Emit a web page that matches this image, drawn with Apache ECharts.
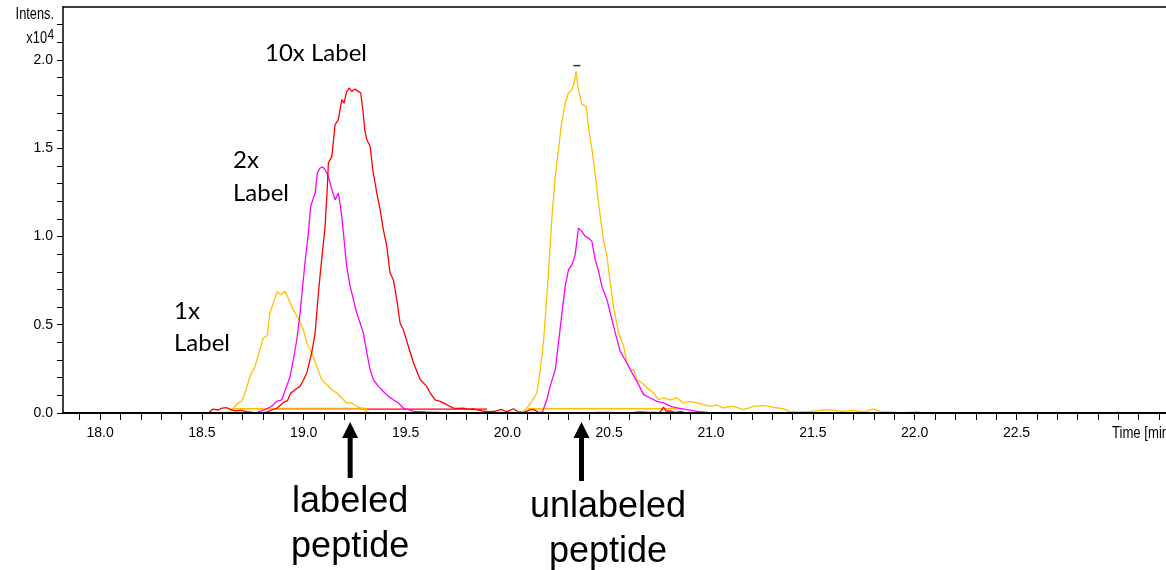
<!DOCTYPE html>
<html><head><meta charset="utf-8">
<script src="https://cdn.jsdelivr.net/npm/echarts@6/dist/echarts.min.js"></script>
<style>html,body{margin:0;padding:0;background:#fff}#c{width:1166px;height:570px}</style>
</head><body><div id="c"></div>
<script>
// ---- data (time in min, intensity in x10^4) ----
const xLabels = ['18.0','18.5','19.0','19.5','20.0','20.5','21.0','21.5','22.0','22.5'];
const yLabels = ['0.0','0.5','1.0','1.5','2.0'];
const xMin = 17.818, xMax = 23.234;
const yMin = 0, yMax = 2.3;

const red10x = [[17.818,0],[18.53,0],[18.54,0.009],[18.555,0.022],[18.58,0.017],[18.6,0.028],[18.62,0.03],[18.64,0.02],[18.66,0.012],[18.69,0.015],[18.72,0.008],[18.75,0.004],[18.78,0.002],[18.8,0],[18.82,0.006],[18.843,0.017],[18.87,0.028],[18.9,0.06],[18.92,0.07],[18.935,0.11],[18.957,0.132],[18.982,0.151],[19.0,0.19],[19.015,0.227],[19.039,0.34],[19.056,0.453],[19.072,0.68],[19.088,0.869],[19.105,1.057],[19.116,1.284],[19.121,1.416],[19.138,1.454],[19.145,1.53],[19.154,1.633],[19.17,1.662],[19.187,1.775],[19.198,1.756],[19.211,1.822],[19.224,1.841],[19.236,1.822],[19.252,1.836],[19.268,1.822],[19.28,1.813],[19.29,1.718],[19.301,1.595],[19.31,1.548],[19.326,1.511],[19.339,1.378],[19.359,1.246],[19.375,1.152],[19.391,1.039],[19.408,0.944],[19.424,0.793],[19.44,0.755],[19.457,0.642],[19.473,0.51],[19.489,0.472],[19.514,0.377],[19.539,0.283],[19.572,0.189],[19.588,0.17],[19.604,0.151],[19.621,0.113],[19.645,0.075],[19.67,0.066],[19.703,0.047],[19.735,0.028],[19.76,0.026],[19.784,0.028],[19.81,0.02],[19.833,0.024],[19.86,0.015],[19.883,0.01],[19.91,0.008],[19.94,0.01],[19.97,0.02],[19.99,0.01],[20.0,0.008],[20.03,0.024],[20.05,0.008],[20.08,0.003],[20.11,0.018],[20.13,0.02],[20.15,0.005],[20.2,0],[20.3,0.002],[20.4,0],[20.45,0.004],[20.55,0.002],[20.6,0],[20.65,0.006],[20.7,0.004],[20.75,0.005],[20.767,0.033],[20.78,0.01],[20.8,0.012],[20.82,0.004],[20.85,0.008],[20.88,0],[23.234,0]];

const magenta2x = [[17.818,0],[18.76,0],[18.769,0.009],[18.81,0.019],[18.843,0.038],[18.867,0.066],[18.892,0.075],[18.916,0.151],[18.933,0.207],[18.949,0.302],[18.966,0.415],[18.982,0.567],[18.998,0.755],[19.006,0.85],[19.023,1.02],[19.034,1.171],[19.056,1.246],[19.067,1.36],[19.08,1.388],[19.093,1.394],[19.105,1.378],[19.118,1.35],[19.129,1.303],[19.143,1.246],[19.154,1.208],[19.162,1.227],[19.17,1.246],[19.178,1.19],[19.187,1.114],[19.198,0.982],[19.211,0.831],[19.228,0.717],[19.244,0.642],[19.26,0.567],[19.277,0.51],[19.293,0.453],[19.31,0.34],[19.326,0.245],[19.342,0.189],[19.367,0.151],[19.391,0.122],[19.416,0.094],[19.44,0.075],[19.465,0.057],[19.489,0.028],[19.514,0.019],[19.539,0.009],[19.6,0.006],[19.65,0.004],[19.7,0.002],[19.75,0],[20.17,0],[20.177,0],[20.194,0.075],[20.21,0.151],[20.235,0.245],[20.251,0.397],[20.268,0.567],[20.284,0.717],[20.3,0.812],[20.317,0.84],[20.333,0.897],[20.349,1.048],[20.366,1.029],[20.382,1.001],[20.399,0.991],[20.415,0.972],[20.431,0.869],[20.448,0.802],[20.464,0.717],[20.489,0.642],[20.505,0.567],[20.53,0.453],[20.554,0.349],[20.587,0.283],[20.612,0.227],[20.636,0.179],[20.669,0.104],[20.702,0.085],[20.735,0.066],[20.767,0.057],[20.8,0.038],[20.841,0.028],[20.882,0.019],[20.931,0.009],[20.98,0.003],[21.0,0],[23.234,0]];

const gold1x = [[17.818,0],[18.63,0],[18.638,0.009],[18.654,0.028],[18.679,0.057],[18.695,0.066],[18.712,0.113],[18.736,0.207],[18.761,0.264],[18.785,0.359],[18.801,0.425],[18.821,0.438],[18.834,0.567],[18.851,0.623],[18.87,0.689],[18.887,0.67],[18.907,0.689],[18.924,0.652],[18.941,0.604],[18.957,0.567],[18.973,0.538],[18.998,0.472],[19.015,0.397],[19.039,0.34],[19.064,0.264],[19.088,0.189],[19.113,0.16],[19.138,0.132],[19.162,0.113],[19.187,0.085],[19.211,0.057],[19.236,0.057],[19.26,0.038],[19.285,0.028],[19.31,0.009],[19.33,0],[19.43,0],[19.45,0.004],[19.47,0],[20.06,0],[20.071,0.002],[20.096,0.028],[20.12,0.066],[20.145,0.113],[20.161,0.245],[20.177,0.397],[20.194,0.661],[20.207,0.887],[20.219,1.114],[20.235,1.341],[20.251,1.492],[20.264,1.624],[20.284,1.756],[20.3,1.813],[20.317,1.832],[20.328,1.87],[20.337,1.935],[20.349,1.832],[20.366,1.747],[20.387,1.737],[20.402,1.586],[20.418,1.473],[20.436,1.303],[20.456,1.114],[20.472,0.982],[20.489,0.887],[20.505,0.737],[20.521,0.604],[20.546,0.453],[20.571,0.377],[20.587,0.283],[20.604,0.245],[20.62,0.245],[20.636,0.189],[20.661,0.17],[20.686,0.142],[20.718,0.113],[20.743,0.075],[20.767,0.085],[20.8,0.075],[20.832,0.085],[20.865,0.057],[20.898,0.066],[20.931,0.057],[20.964,0.047],[20.997,0.038],[21.029,0.045],[21.062,0.028],[21.079,0.034],[21.111,0.038],[21.16,0.019],[21.209,0.038],[21.258,0.043],[21.308,0.032],[21.357,0.023],[21.39,0.006],[21.439,0.006],[21.488,0.009],[21.537,0.015],[21.586,0.019],[21.635,0.009],[21.701,0.015],[21.75,0.006],[21.799,0.023],[21.832,0.006],[21.881,0.006],[21.93,0],[22.012,0.006],[22.04,0],[22.98,0],[22.997,0.006],[23.015,0],[23.234,0]];

// flat connector segments drawn by the acquisition software
const goldFlatSeg1 = [[18.65,0.024],[18.87,0.024]];
const orangeFlatSeg = [[18.87,0.024],[19.31,0.024]];
const redFlatSeg = [[19.31,0.022],[19.90,0.022]];
const goldFlatSeg2 = [[20.10,0.024],[20.86,0.024]];
// peak marker
const peakMark = [[20.341,1.968]];

// annotations
const labeledArrowTime = 19.228;
const unlabeledArrowTime = 20.364;
const peakNotes = ['10x Label','2x','Label','1x','Label'];
const bottomNotes = ['labeled','peptide','unlabeled','peptide'];
const axisTitleX = 'Time [min]';
const axisTitleY = ['Intens.','x10','4'];

// ---- build ----
const xLabelVals = xLabels.map(Number);
const yLabelVals = yLabels.map(Number);
const xTickVals = []; for (let i = 179; i <= 232; i++) xTickVals.push(i / 10);
const yTickVals = []; for (let i = 0; i <= 22; i++) yTickVals.push(i / 10);

const tickFont = '"Liberation Sans", Arial, sans-serif';
const noteFont = 'Lato, "Open Sans", sans-serif';
const bigFont = '"Liberation Sans", Arial, sans-serif';

function line(name, data, color, z, w) {
  return { name, type: 'line', data, showSymbol: false, symbol: 'none', silent: true,
    lineStyle: { color, width: w || 1.3 }, itemStyle: { color }, z, animation: false };
}

const chart = echarts.init(document.getElementById('c'), null, { renderer: 'canvas' });
chart.setOption({
  backgroundColor: '#fff',
  animation: false,
  grid: { left: 63, right: 0, top: 7, bottom: 157, containLabel: false },
  xAxis: [{
    type: 'value', min: xMin, max: xMax, position: 'bottom', z: 20,
    axisLine: { show: true, onZero: false, lineStyle: { color: '#000', width: 2 } },
    axisTick: { show: true, customValues: xTickVals, length: 7, lineStyle: { color: '#000', width: 1 } },
    axisLabel: { customValues: xLabelVals, margin: 13, color: '#000', fontFamily: tickFont, fontSize: 14,
      formatter: v => xLabels[xLabelVals.findIndex(u => Math.abs(u - v) < 1e-6)] || '' },
    splitLine: { show: false }
  }, {
    type: 'value', min: xMin, max: xMax, position: 'top', z: 20,
    axisLine: { show: true, onZero: false, lineStyle: { color: '#000', width: 1.5 } },
    axisTick: { show: false }, axisLabel: { show: false }, splitLine: { show: false }
  }],
  yAxis: {
    type: 'value', min: yMin, max: yMax, z: 20,
    axisLine: { show: true, onZero: false, lineStyle: { color: '#000', width: 1.5 } },
    axisTick: { show: true, customValues: yTickVals, length: 6, lineStyle: { color: '#000', width: 1 } },
    axisLabel: { customValues: yLabelVals, margin: 10, color: '#000', fontFamily: tickFont, fontSize: 14,
      formatter: v => yLabels[yLabelVals.findIndex(u => Math.abs(u - v) < 1e-6)] || '' },
    splitLine: { show: false }
  },
  series: [
    line('gold flat 1', goldFlatSeg1, '#FFC000', 2, 1.5),
    line('orange flat', orangeFlatSeg, '#FFA020', 2, 2),
    line('red flat', redFlatSeg, '#FF0000', 2, 1.3),
    line('gold flat 2', goldFlatSeg2, '#FFC000', 2, 1.5),
    line('1x / unlabeled', gold1x, '#FFC000', 3),
    line('2x', magenta2x, '#FF00FF', 4),
    line('10x', red10x, '#FF0000', 5),
    { type: 'scatter', data: peakMark, symbol: 'rect', symbolSize: [7, 1.5], itemStyle: { color: '#000' }, silent: true, z: 6 }
  ]
});

const px = t => chart.convertToPixel({ xAxisIndex: 0 }, t);
const xa = px(labeledArrowTime), xb = px(unlabeledArrowTime);
function arrow(x, yTip, yEnd) {
  return [
    { type: 'rect', shape: { x: x - 2.5, y: yTip + 14, width: 5, height: yEnd - yTip - 14 }, style: { fill: '#000' }, silent: true },
    { type: 'polygon', shape: { points: [[x - 8, yTip + 16], [x + 8, yTip + 16], [x, yTip]] }, style: { fill: '#000' }, silent: true }
  ];
}
function txt(x, y, text, font, size, align, sx) {
  return { type: 'text', x, y, scaleX: sx || 1, silent: true, style: { text, fontFamily: font, fontSize: size, fill: '#000', align: align || 'left', verticalAlign: 'middle' } };
}
chart.setOption({
  graphic: [].concat(
    arrow(xa, 422, 478),
    arrow(xb, 422, 481),
    [
      txt(54, 15, axisTitleY[0], tickFont, 16, 'right', 0.8),
      txt(47, 39, axisTitleY[1], tickFont, 16, 'right', 0.8),
      txt(47.5, 34.5, axisTitleY[2], tickFont, 15, 'left', 0.8),
      txt(1112, 434, axisTitleX, tickFont, 16, 'left', 0.82),
      txt(265, 53, peakNotes[0], noteFont, 24),
      txt(233, 160, peakNotes[1], noteFont, 24),
      txt(233, 193, peakNotes[2], noteFont, 24),
      txt(174, 311.5, peakNotes[3], noteFont, 24),
      txt(174, 343.5, peakNotes[4], noteFont, 24),
      txt(xa, 502, bottomNotes[0], bigFont, 36, 'center'),
      txt(xa, 547, bottomNotes[1], bigFont, 36, 'center'),
      txt(xb + 26.5, 507, bottomNotes[2], bigFont, 36, 'center'),
      txt(xb + 26.5, 552, bottomNotes[3], bigFont, 36, 'center')
    ]
  )
});
</script>
</body></html>
